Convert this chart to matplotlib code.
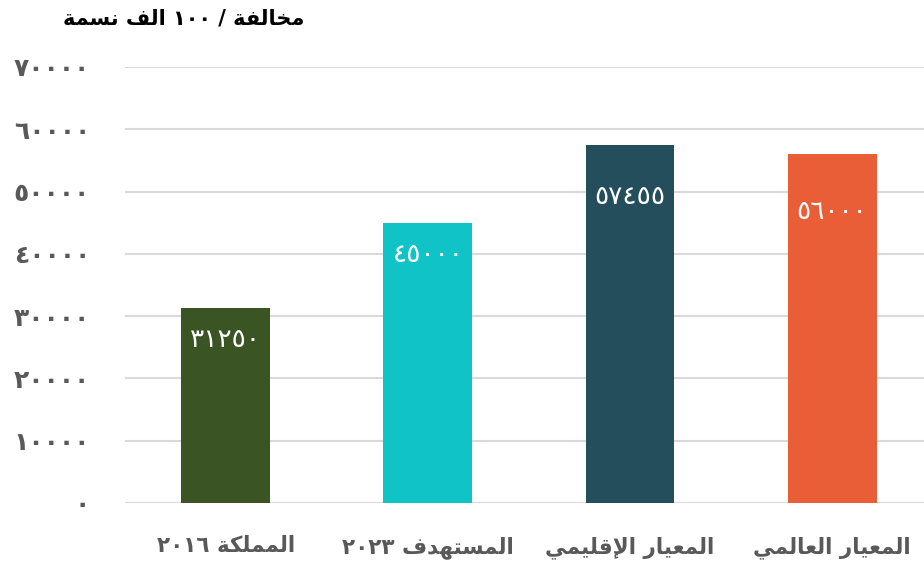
import re
import matplotlib
matplotlib.use("Agg")
import matplotlib.pyplot as plt

plt.rcParams['font.family'] = ['DejaVu Sans']

# data
categories = ['المملكة ٢٠١٦', 'المستهدف ٢٠٢٣', 'المعيار الإقليمي', 'المعيار العالمي']
values = [31250, 45000, 57455, 56000]
colors = ['#3A5424', '#10C3C7', '#244E5B', '#E95E37']
yticks = [0, 10000, 20000, 30000, 40000, 50000, 60000, 70000]
title = 'مخالفة / ١٠٠ الف نسمة'
label_drop = [32, 32, 52, 58]  # px below bar top for value labels

# --- tiny arabic shaper (matplotlib 3.10 has no complex text layout) ---
FORMS = {
    'ا': (0xFE8D, 0xFE8E, None, None),
    'إ': (0xFE87, 0xFE88, None, None),
    'أ': (0xFE83, 0xFE84, None, None),
    'ة': (0xFE93, 0xFE94, None, None),
    'د': (0xFEA9, 0xFEAA, None, None),
    'ر': (0xFEAD, 0xFEAE, None, None),
    'ت': (0xFE95, 0xFE96, 0xFE97, 0xFE98),
    'خ': (0xFEA5, 0xFEA6, 0xFEA7, 0xFEA8),
    'س': (0xFEB1, 0xFEB2, 0xFEB3, 0xFEB4),
    'ع': (0xFEC9, 0xFECA, 0xFECB, 0xFECC),
    'ف': (0xFED1, 0xFED2, 0xFED3, 0xFED4),
    'ق': (0xFED5, 0xFED6, 0xFED7, 0xFED8),
    'ك': (0xFED9, 0xFEDA, 0xFEDB, 0xFEDC),
    'ل': (0xFEDD, 0xFEDE, 0xFEDF, 0xFEE0),
    'م': (0xFEE1, 0xFEE2, 0xFEE3, 0xFEE4),
    'ن': (0xFEE5, 0xFEE6, 0xFEE7, 0xFEE8),
    'ه': (0xFEE9, 0xFEEA, 0xFEEB, 0xFEEC),
    'ي': (0xFEF1, 0xFEF2, 0xFEF3, 0xFEF4),
}
LIG = {'ا': (0xFEFB, 0xFEFC), 'إ': (0xFEF9, 0xFEFA), 'أ': (0xFEF7, 0xFEF8)}


def is_ar(t):
    return isinstance(t, tuple) or t in FORMS


def dual(t):
    return (not isinstance(t, tuple)) and t in FORMS and FORMS[t][2] is not None


def ar(text):
    toks = []
    i = 0
    while i < len(text):
        c = text[i]
        if c == 'ل' and i + 1 < len(text) and text[i + 1] in LIG:
            toks.append(('lig', text[i + 1]))
            i += 2
        else:
            toks.append(c)
            i += 1
    out = ''
    for k, t in enumerate(toks):
        if not is_ar(t):
            out += t
            continue
        prev = k > 0 and dual(toks[k - 1])
        nxt = dual(t) and k + 1 < len(toks) and is_ar(toks[k + 1])
        if isinstance(t, tuple):
            iso, fin = LIG[t[1]]
            out += chr(fin if prev else iso)
            continue
        f = FORMS[t]
        if prev and nxt:
            out += chr(f[3])
        elif prev:
            out += chr(f[1])
        elif nxt:
            out += chr(f[2])
        else:
            out += chr(f[0])
    rev = out[::-1]
    return re.sub(r'[0-9\u0660-\u0669]+', lambda m: m.group()[::-1], rev)


def ind(n):
    return str(n).translate(str.maketrans('0123456789', '٠١٢٣٤٥٦٧٨٩'))


fig = plt.figure(figsize=(9.24, 5.63), dpi=100)
ax = fig.add_axes([0.135, 0.1066, 0.865, 0.7744])

x = range(len(categories))
bars = ax.bar(x, values, width=0.44, color=colors, zorder=3)

ax.set_ylim(0, 70000)
ax.set_xlim(-0.5, 3.455)
ax.set_yticks(yticks)
ax.set_yticklabels([ind(v) for v in yticks], fontsize=18, fontweight='bold', color='#595959')
ax.set_xticks(list(x))
ax.set_xticklabels([ar(c) for c in categories], fontsize=15.5, fontweight='bold', color='#595959')
ax.tick_params(axis='both', length=0)
ax.tick_params(axis='y', pad=25)
ax.tick_params(axis='x', pad=24)
ax.grid(axis='y', color='#D9D9D9', linewidth=1.5, zorder=0)
for s in ax.spines.values():
    s.set_visible(False)

for b, v, d in zip(bars, values, label_drop):
    ax.annotate(ind(v), (b.get_x() + b.get_width() / 2, v), xytext=(0, -d * 0.72),
                textcoords='offset points', ha='center', va='center',
                color='white', fontsize=19)

fig.text(0.199, 0.968, ar(title), ha='center', va='center', fontsize=15, fontweight='bold', color='black')

fig.savefig('out.png', dpi=100)
